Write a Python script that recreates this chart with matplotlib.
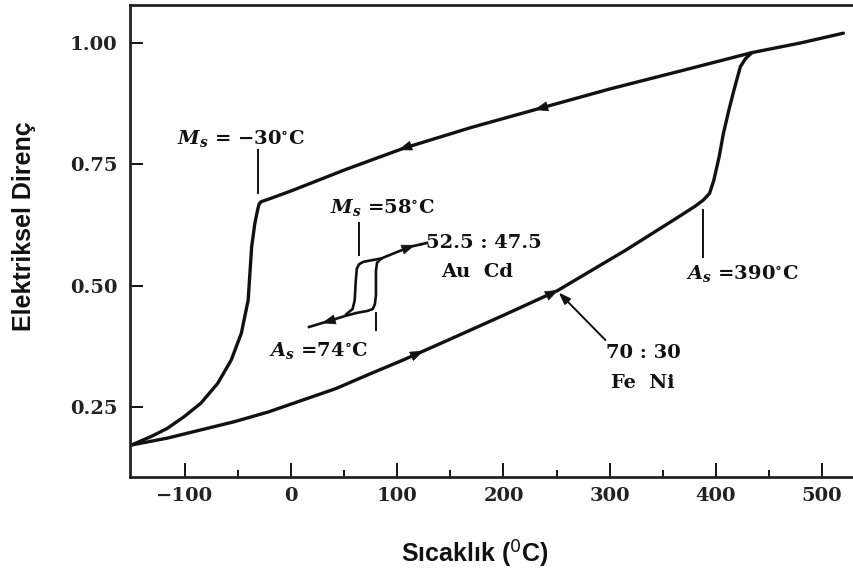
import matplotlib
matplotlib.use("Agg")
import matplotlib.pyplot as plt
import numpy as np

# ---- data ----
# Fe-Ni (70:30) cooling path (upper branch, Ms = -30 C)
feni_cool_x = [-150, -132, -116.5, -100.7, -84.8, -68.9, -56.2, -46.7, -40.3, -37, -34, -31.5, -30, -28,
               -20, 0, 50, 106, 170, 234, 300, 370, 434, 480, 520]
feni_cool_y = [0.172, 0.189, 0.206, 0.230, 0.258, 0.299, 0.347, 0.402, 0.470, 0.580, 0.628, 0.655, 0.668, 0.673,
               0.679, 0.695, 0.738, 0.783, 0.826, 0.865, 0.905, 0.944, 0.980, 1.000, 1.020]
# Fe-Ni heating path (lower branch, As = 390 C)
feni_heat_x = [-150, -116.5, -84.8, -53.1, -21.2, 10.5, 42.2, 74.0, 105.7, 150, 201, 251, 315, 360, 380, 388,
               394, 398, 403, 407, 412, 417, 423, 428, 434]
feni_heat_y = [0.172, 0.186, 0.203, 0.220, 0.240, 0.264, 0.288, 0.318, 0.347, 0.390, 0.440, 0.490, 0.573, 0.635,
               0.663, 0.676, 0.690, 0.717, 0.765, 0.813, 0.860, 0.903, 0.951, 0.968, 0.980]
# Au-Cd (52.5:47.5) small loop
aucd_heat_x = [17, 34, 50, 62, 72, 77, 79, 80, 80, 81, 85, 95, 112, 122]
aucd_heat_y = [0.415, 0.426, 0.437, 0.444, 0.448, 0.452, 0.462, 0.480, 0.530, 0.547, 0.556, 0.565, 0.580, 0.585]
aucd_cool_x = [85, 75, 68, 64, 62, 61, 60, 58, 52]
aucd_cool_y = [0.556, 0.552, 0.549, 0.544, 0.535, 0.510, 0.470, 0.452, 0.441]

# direction arrows on the curves: (x, y, slope, direction)
arrow_x = [106, 234, 120, 247, 34, 112]
arrow_y = [0.783, 0.865, 0.361, 0.486, 0.426, 0.580]
arrow_slope = [0.00075, 0.0006, 0.00098, 0.0011, 0.0006, 0.0008]
arrow_dir = [-1, -1, 1, 1, -1, 1]

# marker lines for transformation temperatures
mark_x = [-31, 64, 80, 388]
mark_y0 = [0.690, 0.563, 0.408, 0.559]
mark_y1 = [0.779, 0.629, 0.443, 0.655]

x_ticks = [-100, 0, 100, 200, 300, 400, 500]
x_tick_labels = ["\u2212100", "0", "100", "200", "300", "400", "500"]
y_ticks = [0.25, 0.50, 0.75, 1.00]
y_tick_labels = ["0.25", "0.50", "0.75", "1.00"]

# ---- figure ----
plt.rcParams["mathtext.fontset"] = "custom"
plt.rcParams["mathtext.it"] = "DejaVu Serif:italic:bold"
plt.rcParams["mathtext.rm"] = "DejaVu Serif:bold"
plt.rcParams["mathtext.bf"] = "DejaVu Serif:bold"

fig = plt.figure(figsize=(8.54, 5.74), dpi=100)
ax = fig.add_axes([130 / 854, 1 - 477 / 574, 1 - 130 / 854 + 0.01, (477 - 5) / 574])

lw = 2.4
ink = "#111111"
ax.plot(feni_cool_x, feni_cool_y, color=ink, lw=lw, solid_capstyle="round", solid_joinstyle="round")
ax.plot(feni_heat_x, feni_heat_y, color=ink, lw=lw, solid_capstyle="round", solid_joinstyle="round")
ax.plot(aucd_heat_x, aucd_heat_y, color=ink, lw=1.9, solid_joinstyle="round")
ax.plot(aucd_cool_x, aucd_cool_y, color=ink, lw=1.9, solid_joinstyle="round")

# direction arrows
for xa, ya, sl, d in zip(arrow_x, arrow_y, arrow_slope, arrow_dir):
    ax.annotate("", xy=(xa + d * 5, ya + d * 5 * sl), xytext=(xa - d * 5, ya - d * 5 * sl),
                arrowprops=dict(arrowstyle="-|>,head_length=0.9,head_width=0.33", color=ink, lw=0.5,
                                shrinkA=0, shrinkB=0))

for xm, y0, y1 in zip(mark_x, mark_y0, mark_y1):
    ax.plot([xm, xm], [y0, y1], color=ink, lw=1.4)

serif = "DejaVu Serif"
fs = 14
tw = "bold"
ax.text(-107, 0.804, r"$M_s$ = $-$30$^{\circ}$C", fontsize=fs, family=serif, weight=tw, va="center", ha="left", color=ink)
ax.text(37, 0.660, r"$M_s$ =58$^{\circ}$C", fontsize=fs, family=serif, weight=tw, va="center", ha="left", color=ink)
ax.text(127, 0.588, "52.5 : 47.5", fontsize=fs, family=serif, weight=tw, va="center", ha="left", color=ink)
ax.text(141, 0.528, "Au  Cd", fontsize=fs, family=serif, weight=tw, va="center", ha="left", color=ink)
ax.text(-21, 0.367, r"$A_s$ =74$^{\circ}$C", fontsize=fs, family=serif, weight=tw, va="center", ha="left", color=ink)
ax.text(372, 0.526, r"$A_s$ =390$^{\circ}$C", fontsize=fs, family=serif, weight=tw, va="center", ha="left", color=ink)
ax.text(332, 0.361, "70 : 30", fontsize=fs, family=serif, weight=tw, va="center", ha="center", color=ink)
ax.text(331, 0.299, "Fe  Ni", fontsize=fs, family=serif, weight=tw, va="center", ha="center", color=ink)

# Fe-Ni pointer
ax.annotate("", xy=(252, 0.486), xytext=(296, 0.388),
            arrowprops=dict(arrowstyle="-|>,head_length=0.7,head_width=0.25", color=ink, lw=1.4,
                            shrinkA=0, shrinkB=0))
# Au-Cd line extension to label
ax.plot([122, 128], [0.585, 0.588], color=ink, lw=1.9)

ax.set_xlim(-151.5, 538)
ax.set_ylim(0.106, 1.078)
ax.set_xticks(x_ticks)
ax.set_xticklabels(x_tick_labels, family=serif, fontsize=fs, weight=tw, color="#222222")
ax.set_xticks([-50, 50, 150, 250, 350, 450], minor=True)
ax.set_yticks(y_ticks)
ax.set_yticklabels(y_tick_labels, family=serif, fontsize=fs, weight=tw, color="#222222")
ax.tick_params(axis="x", which="major", direction="in", length=10, width=1.3, pad=7)
ax.tick_params(axis="x", which="minor", direction="in", length=5, width=1.3)
ax.tick_params(axis="y", which="major", direction="in", length=9, width=1.3, pad=9)
for s in ["left", "bottom", "top"]:
    ax.spines[s].set_linewidth(2.0)
    ax.spines[s].set_color("#222222")
ax.spines["right"].set_visible(False)

fig.text(475 / 854, 1 - 553 / 574, "S\u0131cakl\u0131k ($^{\\mathsf{0}}$C)", family="Liberation Sans", fontsize=18,
         weight="bold", ha="center", va="center", color="#111111")
fig.text(24 / 854, 1 - 226 / 574, "Elektriksel Diren\u00e7", family="Liberation Sans", fontsize=18,
         weight="bold", rotation=90, ha="center", va="center", color="#111111")

fig.savefig("out.png", dpi=100)
